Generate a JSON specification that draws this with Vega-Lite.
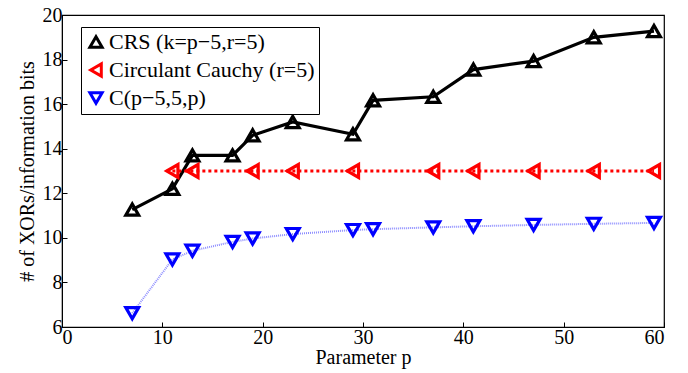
{
  "$schema": "https://vega.github.io/schema/vega-lite/v6.json",
  "width": 602,
  "height": 312,
  "autosize": {"type": "none"},
  "padding": {"left": 62, "top": 15, "right": 24, "bottom": 46},
  "background": "white",
  "config": {
    "view": {"stroke": "black", "strokeWidth": 1.2},
    "font": "Liberation Serif",
    "axis": {
      "grid": false,
      "domainColor": "black",
      "tickColor": "black",
      "labelColor": "black",
      "titleColor": "black",
      "tickSize": -5,
      "labelPadding": 5
    },
    "legend": {
      "orient": "none", "legendX": 19, "legendY": 12, "strokeColor": "black", "fillColor": "white", "padding": 4,
      "labelFont": "Liberation Serif", "labelFontSize": 22, "labelColor": "black", "symbolSize": 150, "symbolStrokeWidth": 3, "rowPadding": 3, "labelOffset": 2, "labelLimit": 400
    }
  },
  "data": {
    "values": [
      {"p": 7, "v": 11.27, "s": "CRS (k=p−5,r=5)"},
      {"p": 11, "v": 12.2, "s": "CRS (k=p−5,r=5)"},
      {"p": 13, "v": 13.7, "s": "CRS (k=p−5,r=5)"},
      {"p": 17, "v": 13.7, "s": "CRS (k=p−5,r=5)"},
      {"p": 19, "v": 14.6, "s": "CRS (k=p−5,r=5)"},
      {"p": 23, "v": 15.2, "s": "CRS (k=p−5,r=5)"},
      {"p": 29, "v": 14.65, "s": "CRS (k=p−5,r=5)"},
      {"p": 31, "v": 16.17, "s": "CRS (k=p−5,r=5)"},
      {"p": 37, "v": 16.33, "s": "CRS (k=p−5,r=5)"},
      {"p": 41, "v": 17.55, "s": "CRS (k=p−5,r=5)"},
      {"p": 47, "v": 17.93, "s": "CRS (k=p−5,r=5)"},
      {"p": 53, "v": 19.0, "s": "CRS (k=p−5,r=5)"},
      {"p": 59, "v": 19.28, "s": "CRS (k=p−5,r=5)"},
      {"p": 11, "v": 13.0, "s": "Circulant Cauchy (r=5)"},
      {"p": 13, "v": 13.0, "s": "Circulant Cauchy (r=5)"},
      {"p": 19, "v": 13.0, "s": "Circulant Cauchy (r=5)"},
      {"p": 23, "v": 13.0, "s": "Circulant Cauchy (r=5)"},
      {"p": 29, "v": 13.0, "s": "Circulant Cauchy (r=5)"},
      {"p": 37, "v": 13.0, "s": "Circulant Cauchy (r=5)"},
      {"p": 41, "v": 13.0, "s": "Circulant Cauchy (r=5)"},
      {"p": 47, "v": 13.0, "s": "Circulant Cauchy (r=5)"},
      {"p": 53, "v": 13.0, "s": "Circulant Cauchy (r=5)"},
      {"p": 59, "v": 13.0, "s": "Circulant Cauchy (r=5)"},
      {"p": 7, "v": 6.62, "s": "C(p−5,5,p)"},
      {"p": 11, "v": 9.03, "s": "C(p−5,5,p)"},
      {"p": 13, "v": 9.42, "s": "C(p−5,5,p)"},
      {"p": 17, "v": 9.82, "s": "C(p−5,5,p)"},
      {"p": 19, "v": 9.97, "s": "C(p−5,5,p)"},
      {"p": 23, "v": 10.17, "s": "C(p−5,5,p)"},
      {"p": 29, "v": 10.35, "s": "C(p−5,5,p)"},
      {"p": 31, "v": 10.39, "s": "C(p−5,5,p)"},
      {"p": 37, "v": 10.47, "s": "C(p−5,5,p)"},
      {"p": 41, "v": 10.52, "s": "C(p−5,5,p)"},
      {"p": 47, "v": 10.58, "s": "C(p−5,5,p)"},
      {"p": 53, "v": 10.63, "s": "C(p−5,5,p)"},
      {"p": 59, "v": 10.67, "s": "C(p−5,5,p)"}
    ]
  },
  "encoding": {
    "x": {"field": "p", "type": "quantitative", "scale": {"domain": [0, 60], "nice": false}, "axis": {"orient": "bottom", "title": "Parameter p", "titlePadding": 0, "values": [0, 10, 20, 30, 40, 50, 60], "labelFont": "Liberation Serif", "titleFont": "Liberation Serif", "labelFontSize": 20, "titleFontSize": 20, "titleFontWeight": "normal"}},
    "y": {"field": "v", "type": "quantitative", "scale": {"domain": [6, 20], "nice": false, "zero": false}, "axis": {"orient": "left", "title": "# of XORs/information bits", "titlePadding": 5, "values": [6, 8, 10, 12, 14, 16, 18, 20], "labelFont": "Liberation Serif", "titleFont": "Liberation Serif", "labelFontSize": 20, "titleFontSize": 20, "titleFontWeight": "normal"}}
  },
  "layer": [
    {
      "transform": [{"filter": "datum.s === 'CRS (k=p−5,r=5)'"}],
      "mark": {"type": "line", "color": "black", "strokeWidth": 3.2},
      "encoding": {}
    },
    {
      "transform": [{"filter": "datum.s === 'Circulant Cauchy (r=5)'"}],
      "mark": {"type": "line", "color": "#ff0000", "strokeWidth": 3.2, "strokeDash": [3, 3], "strokeCap": "butt"},
      "encoding": {}
    },
    {
      "transform": [{"filter": "datum.s === 'C(p−5,5,p)'"}],
      "mark": {"type": "line", "color": "#0000ff", "strokeWidth": 2, "strokeDash": [1, 1], "strokeOpacity": 0.45, "strokeCap": "butt"},
      "encoding": {}
    },
    {
      "mark": {"type": "point", "filled": false, "strokeWidth": 3.2, "size": 165, "opacity": 1},
      "encoding": {
        "color": {"field": "s", "type": "nominal", "scale": {"domain": ["CRS (k=p−5,r=5)", "Circulant Cauchy (r=5)", "C(p−5,5,p)"], "range": ["black", "#ff0000", "#0000ff"]}, "legend": {"title": null}},
        "shape": {"field": "s", "type": "nominal", "scale": {"domain": ["CRS (k=p−5,r=5)", "Circulant Cauchy (r=5)", "C(p−5,5,p)"], "range": ["triangle-up", "triangle-left", "triangle-down"]}, "legend": {"title": null}}
      }
    }
  ]
}
